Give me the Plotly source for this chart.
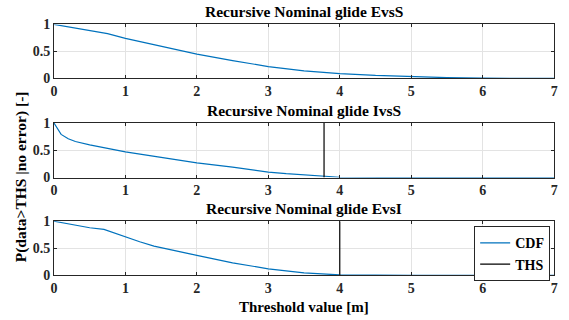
import plotly.graph_objects as go

titles = ["Recursive Nominal glide EvsS", "Recursive Nominal glide IvsS", "Recursive Nominal glide EvsI"]

x_evss = [0, 0.25, 0.5, 0.75, 1, 1.25, 1.5, 1.75, 2, 2.5, 3, 3.5, 4, 4.5, 5, 5.5, 6, 6.5, 7]
cdf_evss = [1, 0.945, 0.89, 0.83, 0.74, 0.67, 0.6, 0.52, 0.45, 0.33, 0.22, 0.14, 0.09, 0.055, 0.03, 0.015, 0.006, 0.002, 0]

x_ivss = [0, 0.1, 0.2, 0.3, 0.5, 0.75, 1, 1.5, 2, 2.5, 3, 3.25, 3.5, 3.78, 4, 5, 6, 7]
cdf_ivss = [1, 0.79, 0.71, 0.66, 0.6, 0.54, 0.47, 0.37, 0.27, 0.19, 0.1, 0.07, 0.05, 0.02, 0.005, 0, 0, 0]

x_evsi = [0, 0.25, 0.5, 0.7, 0.85, 1, 1.2, 1.4, 1.7, 2, 2.5, 3, 3.5, 4, 5, 6, 7]
cdf_evsi = [1, 0.94, 0.88, 0.85, 0.78, 0.71, 0.62, 0.54, 0.45, 0.37, 0.23, 0.12, 0.045, 0.008, 0, 0, 0]

ths_ivss = 3.78
ths_evsi = 4.0

xticks = [0, 1, 2, 3, 4, 5, 6, 7]
yticks = [0, 0.5, 1]
ytick_text = ["0", "0.5", "1"]

BLUE = "#0072BD"
FONT = "Liberation Serif"
W, H = 569, 320
YS, YOFF = 336 / 320, 8  # empirical vertical compensation


def py(yref):
    """paper fraction from a target pixel row"""
    return 1 - (yref * YS - YOFF) / H


fig = go.Figure()

xs = [x_evss, x_ivss, x_evsi]
ys = [cdf_evss, cdf_ivss, cdf_evsi]
ths = [None, ths_ivss, ths_evsi]

# panel pixel boxes (top, bottom)
boxes = [(25, 79), (123.5, 178), (221.7, 275.7)]
xl, xr = 51.5, 557

for i in range(3):
    sfx = "" if i == 0 else str(i + 1)
    fig.add_trace(go.Scatter(x=xs[i], y=ys[i], mode="lines", line=dict(color=BLUE, width=1.2),
                             name="CDF", showlegend=(i == 2), xaxis="x" + sfx, yaxis="y" + sfx))
    if ths[i] is not None:
        fig.add_trace(go.Scatter(x=[ths[i], ths[i]], y=[0, 1], mode="lines",
                                 line=dict(color="black", width=1.2), name="THS",
                                 showlegend=(i == 2), xaxis="x" + sfx, yaxis="y" + sfx))
    top, bot = boxes[i]
    axcommon = dict(showline=True, linecolor="#262626", linewidth=1, mirror="allticks",
                    ticks="inside", ticklen=3, tickcolor="#262626", showgrid=True,
                    gridcolor="#e3e3e3", gridwidth=1, zeroline=False,
                    tickfont=dict(family=FONT, size=14, color="#262626"))
    fig.update_layout(**{
        "xaxis" + sfx: dict(domain=[xl / W, xr / W], range=[0, 7], tickvals=xticks,
                            ticktext=["<b>%d</b>" % t for t in xticks], anchor="y" + sfx, **axcommon),
        "yaxis" + sfx: dict(domain=[py(bot), py(top)], range=[0, 1], tickvals=yticks,
                            ticktext=["<b>%s</b>" % t for t in ytick_text], anchor="x" + sfx, **axcommon),
    })
    fig.add_annotation(text="<b>%s</b>" % titles[i], x=(xl + xr) / 2 / W, y=py(top - 2),
                       xref="paper", yref="paper", xanchor="center", yanchor="bottom",
                       showarrow=False, font=dict(family=FONT, size=15.5, color="black"))

fig.add_annotation(text="<b>Threshold value [m]</b>", x=(xl + xr) / 2 / W, y=py(307),
                   xref="paper", yref="paper", xanchor="center", yanchor="middle",
                   showarrow=False, font=dict(family=FONT, size=15, color="black"))
fig.add_annotation(text="<b>P(data>THS |no error) [-]</b>", x=18 / W, y=py(177),
                   xref="paper", yref="paper", xanchor="center", yanchor="middle", textangle=-90,
                   showarrow=False, font=dict(family=FONT, size=15.5, color="black"))

fig.update_layout(
    width=W, height=H, margin=dict(l=0, r=0, t=0, b=0), autosize=False,
    paper_bgcolor="white", plot_bgcolor="white",
    legend=dict(x=553 / W, y=py(226.7), xanchor="right", yanchor="top",
                bgcolor="white", bordercolor="#262626", borderwidth=1,
                font=dict(family=FONT, size=14, color="black", weight="bold"), itemwidth=30,
                tracegroupgap=0),
    font=dict(family=FONT),
)

fig.write_html(
    "out.html",
    config={"displayModeBar": False},
    post_script=("document.documentElement.style.margin='0';document.documentElement.style.overflow='hidden';"
                 "document.body.style.margin='0';document.body.style.padding='0';document.body.style.overflow='hidden';"),
)
